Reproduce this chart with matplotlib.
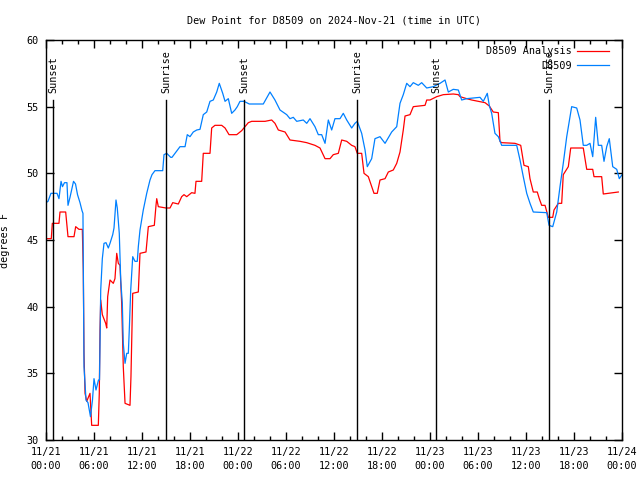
import matplotlib
matplotlib.use("Agg")
import matplotlib.pyplot as plt
from matplotlib.ticker import MultipleLocator, FixedLocator

# ---- data (hours since 2024-11-21 00:00 UTC, dew point in F) ----
obs_hours = [0.00, 0.25, 0.62, 1.38, 1.62, 1.88, 2.06, 2.31, 2.62, 2.75, 3.00, 3.44, 3.69, 3.94,
             4.25, 4.50, 4.62, 4.75, 5.00, 5.25, 5.56, 5.81, 6.00, 6.25, 6.56, 6.69, 6.84, 7.04,
             7.25, 7.50, 7.79, 8.00, 8.34, 8.50, 8.75, 8.91, 9.16, 9.34, 9.54, 9.66, 9.88, 10.09,
             10.29, 10.41, 10.59, 10.84, 11.12, 11.41, 11.54, 11.75, 12.16, 12.59, 13.00, 13.25,
             13.62, 14.59, 14.75, 15.09, 15.59, 15.75, 16.12, 16.75, 17.38, 17.66, 18.00, 18.41,
             18.84, 19.25, 19.66, 20.09, 20.50, 20.91, 21.34, 21.66, 22.09, 22.38, 22.79, 23.21,
             23.62, 23.91, 24.25, 24.75, 25.41, 27.16, 28.00, 28.62, 29.25, 30.09, 30.50, 30.91,
             31.34, 32.16, 32.59, 33.00, 33.62, 34.04, 34.46, 34.88, 35.29, 35.71, 36.12, 36.75,
             37.16, 37.59, 38.21, 38.62, 38.91, 39.46, 39.88, 40.16, 40.71, 41.12, 41.75, 42.38,
             43.21, 43.84, 44.25, 44.66, 45.09, 45.50, 45.91, 46.54, 46.96, 47.59, 48.41, 49.25,
             49.88, 50.29, 50.91, 51.54, 51.96, 52.59, 54.25, 54.66, 55.16, 55.41, 55.71, 56.12,
             56.54, 56.96, 58.84, 59.25, 59.66, 60.09, 60.50, 60.91, 62.59, 62.88, 63.34, 63.84,
             64.25, 64.66, 65.09, 65.71, 66.34, 66.75, 67.16, 67.59, 68.00, 68.34, 68.71, 69.04,
             69.46, 69.75, 70.09, 70.41, 70.84, 71.34, 71.66, 72.00]
obs_values = [47.8, 47.9, 48.5, 48.5, 48.1, 49.4, 49.0, 49.3, 49.3, 47.6, 48.2, 49.4, 49.2, 48.4,
              47.8, 47.2, 47.0, 35.5, 33.0, 32.8, 31.75, 33.0, 34.6, 33.75, 34.5, 34.5, 41.25, 43.6,
              44.75, 44.8, 44.4, 44.75, 45.4, 45.9, 48.0, 47.4, 45.5, 42.0, 40.25, 37.25, 35.75, 36.5,
              36.5, 38.25, 41.25, 43.75, 43.4, 43.4, 44.5, 45.75, 47.25, 48.5, 49.5, 49.9,
              50.2, 50.2, 51.4, 51.5, 51.2, 51.2, 51.5, 52.0, 52.0, 52.9, 52.75, 53.1,
              53.25, 53.3, 54.4, 54.6, 55.4, 55.5, 56.1, 56.75, 56.0, 55.4, 55.6, 54.5,
              54.75, 55.0, 55.4, 55.4, 55.2, 55.2, 56.1, 55.5, 54.75, 54.4, 54.1, 54.2,
              53.9, 54.0, 53.75, 54.1, 53.5, 52.9, 52.9, 52.25, 54.0, 53.25, 54.1, 54.1,
              54.5, 54.0, 53.4, 53.75, 53.9, 53.0, 51.75, 50.5, 51.1, 52.6, 52.75, 52.25,
              53.1, 53.5, 55.25, 55.9, 56.75, 56.5, 56.8, 56.6, 56.8, 56.4, 56.5, 56.75,
              57.0, 56.1, 56.3, 56.25, 55.5, 55.6, 55.7, 55.4, 56.0, 55.1, 54.5, 53.0,
              52.75, 52.1, 52.1, 51.0, 49.75, 48.5, 47.75, 47.1, 47.05, 46.1, 46.0, 47.1,
              49.0, 50.75, 52.75, 55.0, 54.9, 54.0, 52.1, 52.1, 52.25, 51.25, 54.2, 52.1,
              52.1, 50.9, 52.0, 52.6, 50.5, 50.3, 49.6, 49.9]

ana_hours = [0.00, 0.66, 0.79, 1.62, 1.75, 2.46, 2.75, 3.50, 3.71, 4.12, 4.54, 4.66, 4.75, 4.88,
             5.09, 5.50, 5.71, 6.54, 6.66, 6.75, 6.84, 7.04, 7.46, 7.59, 7.71, 8.00, 8.41, 8.62,
             8.84, 9.04, 9.25, 9.46, 9.66, 9.88, 10.50, 10.62, 10.84, 11.54, 11.75, 12.50, 12.79,
             13.54, 13.75, 13.84, 14.04, 15.00, 15.50, 15.84, 16.54, 16.96, 17.25, 17.59, 18.21,
             18.62, 18.75, 19.46, 19.66, 20.50, 20.71, 21.12, 21.96, 22.38, 22.88, 23.84, 24.46,
             25.29, 25.71, 27.38, 28.21, 28.62, 29.04, 29.88, 30.50, 31.75, 32.59, 33.62, 34.25,
             34.88, 35.50, 35.91, 36.54, 36.96, 37.59, 38.21, 38.62, 38.91, 39.46, 39.75, 40.29,
             40.71, 41.00, 41.41, 41.75, 42.38, 42.79, 43.41, 43.84, 44.25, 44.66, 44.88, 45.50,
             45.91, 47.38, 47.59, 48.00, 48.84, 49.66, 50.91, 51.54, 51.75, 52.59, 53.21, 54.04,
             54.88, 55.41, 55.91, 56.54, 56.75, 56.96, 58.62, 59.34, 59.75, 60.29, 60.50, 60.91,
             61.41, 61.66, 61.96, 62.38, 62.79, 63.34, 63.50, 64.04, 64.46, 64.66, 65.29, 65.59,
             67.16, 67.59, 68.34, 68.50, 69.46, 69.66, 70.29, 71.54]
ana_values = [45.1, 45.1, 46.25, 46.25, 47.1, 47.1, 45.25, 45.25, 46.0, 45.8, 45.8, 42.75, 36.5, 33.5,
              32.9, 33.5, 31.1, 31.1, 33.5, 38.25, 40.5, 39.4, 38.75, 38.4, 40.75, 42.0, 41.75, 42.1,
              44.0, 43.25, 43.1, 40.25, 35.5, 32.75, 32.6, 34.75, 41.0, 41.1, 44.0, 44.1, 46.0,
              46.1, 47.6, 48.1, 47.5, 47.4, 47.4, 47.8, 47.7, 48.25, 48.4, 48.25, 48.55,
              48.5, 49.4, 49.4, 51.5, 51.5, 53.4, 53.6, 53.6, 53.4, 52.9, 52.9, 53.2,
              53.8, 53.9, 53.9, 54.0, 53.75, 53.25, 53.1, 52.5, 52.4, 52.3, 52.1, 51.9,
              51.1, 51.1, 51.4, 51.5, 52.5, 52.4, 52.1, 52.0, 51.5, 51.5, 50.0, 49.75,
              49.0, 48.5, 48.5, 49.5, 49.6, 50.1, 50.25, 50.75, 51.6, 53.25, 54.3, 54.4,
              55.0, 55.1, 55.5, 55.5, 55.75, 55.9, 55.95, 55.9, 55.75, 55.6, 55.5, 55.4,
              55.3, 55.05, 54.6, 54.55, 52.4, 52.3, 52.25, 52.1, 50.6, 50.5, 49.6, 48.6,
              48.6, 48.1, 47.6, 47.6, 46.7, 46.7, 47.25, 47.75, 47.75, 49.9, 50.5, 51.9,
              51.9, 50.3, 50.3, 49.75, 49.75, 48.45, 48.5, 48.6]

sun_hours = [0.875, 15.0, 24.75, 38.875, 48.75, 62.875]
sun_labels = ["Sunset", "Sunrise", "Sunset", "Sunrise", "Sunset", "Sunrise"]

xtick_hours = [0, 6, 12, 18, 24, 30, 36, 42, 48, 54, 60, 66, 72]
xtick_labels = ["11/21\n00:00", "11/21\n06:00", "11/21\n12:00", "11/21\n18:00",
                "11/22\n00:00", "11/22\n06:00", "11/22\n12:00", "11/22\n18:00",
                "11/23\n00:00", "11/23\n06:00", "11/23\n12:00", "11/23\n18:00",
                "11/24\n00:00"]
ytick_values = [30, 35, 40, 45, 50, 55, 60]

# ---- plot ----
FONT = "DejaVu Sans Mono"
FS = 7.3
plt.rcParams["font.family"] = FONT

fig = plt.figure(figsize=(6.4, 4.8), dpi=100)
ax = fig.add_axes([46 / 640, 40 / 480, 576 / 640, 400 / 480])

ax.plot(ana_hours, ana_values, color="#ff0000", lw=0.9, label="D8509 Analysis")
ax.plot(obs_hours, obs_values, color="#0080ff", lw=0.9, label="D8509")

for h, lab in zip(sun_hours, sun_labels):
    ax.axvline(h, ymin=0, ymax=0.85, color="black", lw=1.0)
    ax.text(h, 0.868, lab, transform=ax.get_xaxis_transform(), rotation=90,
            ha="center", va="bottom", fontsize=FS, family=FONT)

ax.set_xlim(0, 72)
ax.set_ylim(30, 60)
ax.xaxis.set_major_locator(FixedLocator(xtick_hours))
ax.set_xticklabels(xtick_labels, fontsize=FS, linespacing=1.5)
ax.xaxis.set_minor_locator(MultipleLocator(2))
ax.set_yticks(ytick_values)
ax.set_yticklabels([str(v) for v in ytick_values], fontsize=FS)

ax.tick_params(which="major", direction="in", length=6, width=1.0, top=True, right=True, pad=5)
ax.tick_params(which="minor", direction="in", length=3, width=1.0, top=True, right=False)
ax.tick_params(axis="y", which="minor", left=False, right=False)
for s in ax.spines.values():
    s.set_linewidth(1.0)

ax.set_title("Dew Point for D8509 on 2024-Nov-21 (time in UTC)", fontsize=FS, pad=12)
ax.set_ylabel("degrees F", fontsize=FS)
ax.yaxis.set_label_coords((10 - 46) / 576, 0.5)

ax.legend(loc="upper right", frameon=False, fontsize=FS, markerfirst=False,
          handlelength=3.2, handletextpad=0.5, labelspacing=0.45,
          borderaxespad=0.0, bbox_to_anchor=(0.985, 0.995))

fig.savefig("out.png", dpi=100)
